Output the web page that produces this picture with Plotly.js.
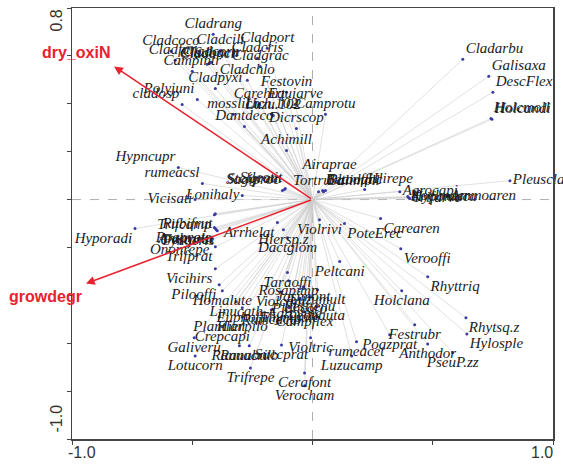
<!DOCTYPE html>
<html>
<head>
<meta charset="utf-8">
<script src="https://cdn.plot.ly/plotly-3.0.1.min.js"></script>
<style>html,body{margin:0;padding:0;background:#fff;}#chart{width:563px;height:464px;}</style>
</head>
<body>
<div id="chart"></div>
<script>
// ---- Species scores (axis 1, axis 2) ----
const speciesNames = [
  "Cladarbu","Galisaxa","DescFlex","Holcmoll","Holcandi","Pleuscla","Hlirepe","Agrocapi",
  "Hypomacu","Trifarve","Koelmacr","Ammoaren","Airaprae","Tortrura","Betooffi","Galimoll","Planlanc",
  "Camprotu","Equiarve","Festovin","Dicrscop","Achimill","Carehirt","Lich.102","Luzu.102","mosslich",
  "Dantdeco","Cladpyxi","Cladchlo","Campintr","Cladgrac","Cladcris","Cladbacu","Cladcorn","Cladunci",
  "Cladfurc","Cladcoco","Cladcili","Cladport","Cladrang","Polyjuni","cladosp","Hypncupr","rumeacsl",
  "Stelgram","Sagiproc","Sileotit","Lonihaly","Vicisati",
  "Rubifrut","Trifcamp","Anthvuln","Festprat","Poaprate","Cynocris","Ononrepe","Trifprat","Hyporadi",
  "Arrhelat","Hiersp.z","Dactglom","Vicihirs","Pilooffi","Homalute","Linucath","Euphoffi","Plantlan",
  "Hierpilo","Crepcapi","Galiveru","Lotucorn","Ranuacri","Ranubulb","Succprat","Trifrepe","Taraoffi",
  "Rosapimp","Violcani","Jasimont","Festtenu","Agrovine","Thympule","Rumeacto","Campflex","Leonauta",
  "Plancoro","Luzumult",
  "Violrivi","PoteErec","Peltcani","Carearen","Verooffi","Rhyttriq","Holclana","Rhytsq.z","Hylosple",
  "Festrubr","Poazprat","Anthodor","PseuP.zz","rumeacet","Luzucamp","Violtric","Cerafont","Verocham"
];
const speciesX = [
  0.625,0.733,0.750,0.742,0.746,0.821,0.217,0.363,
  0.400,0.404,0.396,0.563,0.071,0.025,0.042,0.046,0.054,
  0.054,-0.071,-0.108,-0.067,-0.108,-0.221,-0.171,-0.163,-0.329,
  -0.283,-0.404,-0.271,-0.500,-0.217,-0.229,-0.429,-0.421,-0.438,
  -0.571,-0.588,-0.383,-0.188,-0.413,-0.479,-0.542,-0.558,-0.458,
  -0.117,-0.125,-0.113,-0.292,-0.488,
  -0.404,-0.408,-0.404,-0.400,-0.408,-0.396,-0.417,-0.404,-0.738,
  -0.146,-0.121,-0.104,-0.404,-0.388,-0.375,-0.317,-0.292,-0.388,
  -0.292,-0.375,-0.492,-0.488,-0.304,-0.263,-0.129,-0.258,-0.104,
  -0.100,-0.133,-0.038,-0.013,-0.075,-0.096,-0.171,-0.033,0.017,
  -0.054,0.021,
  0.029,0.133,0.113,0.283,0.367,0.479,0.371,0.638,0.642,
  0.425,0.321,0.479,0.583,0.183,0.163,-0.008,-0.033,-0.033
];
const speciesY = [
  0.586,0.515,0.448,0.339,0.335,0.079,0.042,0.033,
  0.008,0.004,0.013,0.013,0.100,0.033,0.038,0.033,0.038,
  0.356,0.397,0.448,0.297,0.205,0.397,0.356,0.351,0.356,
  0.305,0.464,0.498,0.536,0.556,0.590,0.569,0.573,0.565,
  0.582,0.619,0.623,0.632,0.690,0.418,0.397,0.134,0.067,
  0.042,0.038,0.046,0.017,0.000,
  -0.059,-0.063,-0.121,-0.126,-0.117,-0.130,-0.167,-0.197,-0.121,
  -0.096,-0.126,-0.159,-0.289,-0.356,-0.381,-0.427,-0.452,-0.490,
  -0.490,-0.531,-0.577,-0.653,-0.611,-0.611,-0.607,-0.703,-0.305,
  -0.339,-0.385,-0.364,-0.406,-0.435,-0.452,-0.460,-0.469,-0.444,
  -0.414,-0.377,
  -0.084,-0.100,-0.259,-0.079,-0.205,-0.322,-0.381,-0.494,-0.561,
  -0.523,-0.565,-0.603,-0.640,-0.594,-0.653,-0.577,-0.724,-0.778
];

// ---- Environmental variable arrows ----
const envNames = ["dry_oxiN", "growdegr"];
const envX = [-0.825, -0.942];
const envY = [0.556, -0.351];

// ---- Axis ranges and tick labels ----
const xRange = [-1.0, 1.0];
const yRange = [-1.0, 0.8];
const xTickVals = [-1.0, -0.5, 0, 0.5, 1.0];
const yTickVals = [-1.0, -0.8, -0.6, -0.4, -0.2, 0, 0.2, 0.4, 0.6, 0.8];
const xTickLabels = ["-1.0", "1.0"];
const yTickLabels = ["0.8", "-1.0"];

// label placement rule: away from the origin, along the vector direction
function labelPos(x, y) {
  const ax = Math.abs(x), ay = Math.abs(y);
  const h = x >= 0 ? "right" : "left";
  const v = y >= 0 ? "top" : "bottom";
  if (ay < 0.1 * ax) return "middle " + h;
  if (ax <= ay) return v + " center";
  return v + " " + h;
}

const lx = [], ly = [];
speciesX.forEach((x, i) => { lx.push(0, x, null); ly.push(0, speciesY[i], null); });

const RED = "#e8222e";
const traces = [
  { type: "scatter", mode: "lines", x: lx, y: ly, hoverinfo: "skip",
    line: { color: "#cdcdcd", width: 0.6 }, showlegend: false },
  { type: "scatter", mode: "markers+text", x: speciesX, y: speciesY, text: speciesNames,
    textposition: speciesX.map((x, i) => labelPos(x, speciesY[i])),
    marker: { size: 3, color: "#3b3ba6" }, cliponaxis: false,
    textfont: { family: "Liberation Serif", size: 15, style: "italic", color: "#1c1c1c" },
    showlegend: false }
];

const annotations = [];
envNames.forEach((n, i) => {
  annotations.push({ x: envX[i], y: envY[i], ax: 0, ay: 0, xref: "x", yref: "y",
    axref: "x", ayref: "y", text: "", showarrow: true, arrowhead: 2, arrowsize: 1.1,
    arrowwidth: 1.6, arrowcolor: RED, standoff: 0 });
  annotations.push({ x: envX[i], y: envY[i], xref: "x", yref: "y", text: n, showarrow: false,
    xanchor: "right", yanchor: envY[i] >= 0 ? "bottom" : "top", xshift: -2,
    yshift: envY[i] >= 0 ? 3 : -2,
    font: { family: "Liberation Sans", size: 16, weight: "bold", color: RED } });
});
// x tick labels at the ends
annotations.push({ x: xRange[0], y: 0, xref: "x", yref: "paper", text: xTickLabels[0],
  showarrow: false, xanchor: "left", yanchor: "top", xshift: -6, yshift: -3,
  font: { family: "Liberation Sans", size: 16, color: "#333" } });
annotations.push({ x: xRange[1], y: 0, xref: "x", yref: "paper", text: xTickLabels[1],
  showarrow: false, xanchor: "right", yanchor: "top", xshift: 2, yshift: -3,
  font: { family: "Liberation Sans", size: 16, color: "#333" } });
// y tick labels (rotated)
annotations.push({ x: 0, y: yRange[1], xref: "paper", yref: "y", text: yTickLabels[0],
  showarrow: false, xanchor: "right", yanchor: "top", textangle: -90, xshift: -6,
  font: { family: "Liberation Sans", size: 16, color: "#333" } });
annotations.push({ x: 0, y: yRange[0], xref: "paper", yref: "y", text: yTickLabels[1],
  showarrow: false, xanchor: "right", yanchor: "bottom", textangle: -90, xshift: -6, yshift: 4,
  font: { family: "Liberation Sans", size: 16, color: "#333" } });

const layout = {
  width: 563, height: 464,
  margin: { l: 72, r: 10, t: 8, b: 25 },
  paper_bgcolor: "#fff", plot_bgcolor: "#fff",
  showlegend: false,
  xaxis: { range: xRange, showgrid: false, zeroline: false, showline: true, mirror: true,
    linecolor: "#444", linewidth: 1.5, ticks: "outside", ticklen: 4, tickcolor: "#444",
    tickvals: xTickVals, showticklabels: false, fixedrange: true },
  yaxis: { range: yRange, showgrid: false, zeroline: false, showline: true, mirror: true,
    linecolor: "#444", linewidth: 1.5, ticks: "outside", ticklen: 4, tickcolor: "#444",
    tickvals: yTickVals, showticklabels: false, fixedrange: true },
  shapes: [
    { type: "line", xref: "paper", yref: "y", x0: 0, x1: 1, y0: 0, y1: 0,
      line: { color: "#999", width: 0.8, dash: "dash" }, layer: "below" },
    { type: "line", xref: "x", yref: "paper", x0: 0, x1: 0, y0: 0, y1: 1,
      line: { color: "#999", width: 0.8, dash: "dash" }, layer: "below" }
  ],
  annotations: annotations
};

Plotly.newPlot("chart", traces, layout, { displayModeBar: false, staticPlot: true });
</script>
</body>
</html>
